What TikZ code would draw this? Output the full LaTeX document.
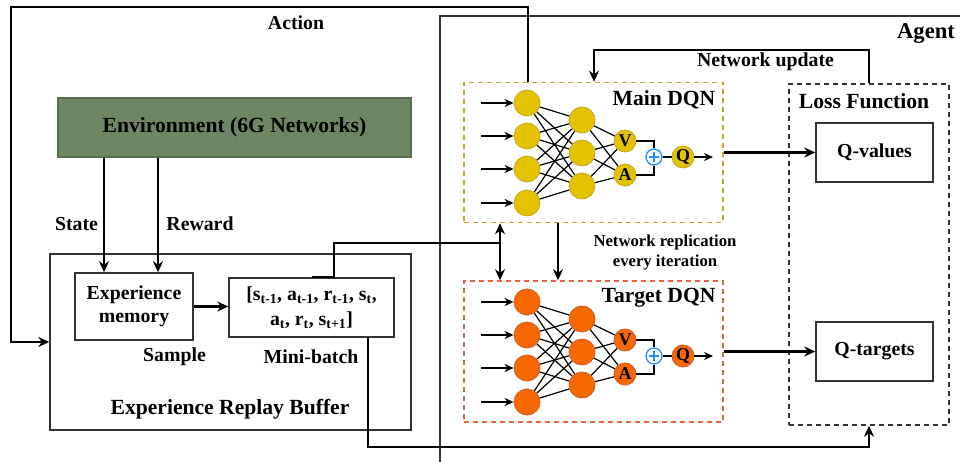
\documentclass[tikz,border=0pt]{standalone}
\usepackage{fontspec}
\setmainfont{Liberation Serif}
\usetikzlibrary{arrows.meta}
\definecolor{envgreen}{RGB}{109,135,98}
\definecolor{envline}{RGB}{86,110,78}
\definecolor{dqnyellow}{RGB}{227,194,0}
\definecolor{dqnyellowline}{RGB}{200,168,30}
\definecolor{dqnorange}{RGB}{247,104,0}
\definecolor{dqnorangeline}{RGB}{214,90,30}
\definecolor{mainline}{RGB}{200,166,40}
\definecolor{targetline}{RGB}{232,100,64}
\definecolor{plusblue}{RGB}{30,144,255}
\definecolor{frameline}{RGB}{51,51,51}
\newcommand{\txtbig}{\fontsize{21.6}{24}\selectfont\bfseries}
\newcommand{\txtmid}{\fontsize{19.8}{24}\selectfont\bfseries}
\newcommand{\txtsmall}{\fontsize{16.7}{19.5}\selectfont\bfseries}

\begin{document}
\begin{tikzpicture}[x=1pt,y=-1pt,
		>={Stealth[length=11pt,width=10pt]},
		box/.style={draw=frameline,line width=1.5pt,inner sep=0pt,align=center,font=\txtmid},
		dashbox/.style={line width=1.5pt,dash pattern=on 5pt off 4pt,inner sep=0pt},
		lbl/.style={inner sep=0pt,font=\txtmid},
		neuron/.style={circle,line width=0.8pt,minimum size=26pt,inner sep=0pt},
		outnode/.style={circle,line width=0.8pt,minimum size=22pt,inner sep=0pt,font=\fontsize{18}{18}\selectfont\bfseries},
		thickarr/.style={->,line width=2.3pt},
		thinarr/.style={->,line width=1.5pt}]
		\useasboundingbox (0,0) rectangle (960,462);
		\clip (0,0) rectangle (960,462);
		
		% agent frame (runs past the page)
		\draw[frameline,line width=1.5pt] (440,16) rectangle (990,490);
		\node[lbl,font=\fontsize{22.6}{24}\selectfont\bfseries] (agent) at (926,34) {Agent};
		
		% environment and replay buffer
		\node[box,draw=envline,fill=envgreen,minimum width=353pt,minimum height=59pt,font=\txtbig] (env) at (234.5,127.5) {Environment (6G Networks)};
		\node[box,minimum width=361pt,minimum height=176pt] (erb) at (230.5,342) {};
		\node[box,minimum width=118pt,minimum height=67pt] (mem) at (134,306.5) {Experience\\[-1pt]memory};
		\node[box,minimum width=165pt,minimum height=59pt] (mb) at (311.5,307.5)
		{[s\textsubscript{t-1}, a\textsubscript{t-1}, r\textsubscript{t-1}, s\textsubscript{t},\\[1pt] a\textsubscript{t}, r\textsubscript{t}, s\textsubscript{t+1}]};
		\node[lbl] (sample) at (174.5,357) {Sample};
		\node[lbl] (minib) at (311,357) {Mini-batch};
		\node[lbl,font=\txtbig] (erbname) at (230,409) {Experience Replay Buffer};
		\node[lbl] (state) at (76.5,224) {State};
		\node[lbl] (reward) at (200,224) {Reward};
		\node[lbl] (action) at (296,23) {Action};
		
		% DQN boxes
		\node[dashbox,draw=mainline,minimum width=259pt,minimum height=140pt] (main) at (593.5,152.5) {};
		\node[dashbox,draw=targetline,minimum width=259pt,minimum height=141pt] (target) at (593.5,351.5) {};
		\node[lbl,font=\txtbig] (mainname) at (664,100) {Main DQN};
		\node[lbl,font=\txtbig] (targetname) at (658.5,298) {Target DQN};
		
		% loss function
		\node[dashbox,draw=frameline,minimum width=160pt,minimum height=341pt] (loss) at (869,254.5) {};
		\node[lbl,font=\txtbig] (lossname) at (864,101) {Loss Function};
		\node[box,minimum width=117pt,minimum height=59pt] (qv) at (874.5,152.5) {Q-values};
		\node[box,minimum width=117pt,minimum height=59pt] (qt) at (874.5,351.5) {Q-targets};
		
		% the two networks
		\foreach \n/\dy/\fc/\lc in {m/0/dqnyellow/dqnyellowline,t/199/dqnorange/dqnorangeline}{
			\begin{scope}[yshift=-\dy pt]
				\foreach \i/\yy in {1/103,2/136,3/169,4/203}{
					\node[neuron,fill=\fc,draw=\lc] (\n-i\i) at (527,\yy) {};
					\coordinate (\n-in\i) at (481,\yy);
					\draw[->,line width=1.5pt,>={Stealth[length=9pt,width=8pt]}] (\n-in\i) -- (\n-i\i);
				}
				\foreach \j/\yy in {1/120,2/153,3/186}
				\node[neuron,fill=\fc,draw=\lc] (\n-h\j) at (582,\yy) {};
				\node[outnode,fill=\fc,draw=\lc] (\n-v) at (625,141) {V};
				\node[outnode,fill=\fc,draw=\lc] (\n-a) at (625,175) {A};
				\node[outnode,fill=\fc,draw=\lc] (\n-q) at (683,157) {Q};
				\node[circle,draw=plusblue,fill=white,line width=1.3pt,minimum size=16pt,inner sep=0pt,
				path picture={\draw[plusblue,line width=1.3pt]
					([xshift=-5pt]path picture bounding box.center) -- ([xshift=5pt]path picture bounding box.center)
					([yshift=-5pt]path picture bounding box.center) -- ([yshift=5pt]path picture bounding box.center);}]
				(\n-plus) at (654,157) {};
				\coordinate (\n-out) at (713,157);
				\foreach \i in {1,...,4}
				\foreach \j in {1,2,3}
				\draw[line width=1.2pt] (\n-i\i) -- (\n-h\j);
				\foreach \j in {1,2,3}
				\foreach \k in {v,a}
				\draw[line width=1.2pt] (\n-h\j) -- (\n-\k);
				\draw[line width=1.1pt] (\n-v) -| (\n-plus);
				\draw[line width=1.1pt] (\n-a) -| (\n-plus);
				\draw[line width=1.1pt] (\n-plus) -- (\n-q);
				\draw[->,line width=1.5pt,>={Stealth[length=9pt,width=8pt]}] (\n-q) -- (\n-out);
			\end{scope}
		}
		
		% connectors
		\coordinate (s1) at (104,0);%state
		\coordinate (r1) at (158,0);%reward
		\draw[thickarr] (env.south -| s1) -- (mem.north -| s1);
		\draw[thickarr] (env.south -| r1) -- (mem.north -| r1);
		\draw[thickarr] (mem.east) -- (mem.east -| mb.west);
		
		\coordinate (a1) at (528,7);%action
		\coordinate (a2) at (11,7);
		\coordinate (a3) at (11,342);
		\draw[thickarr] (main.north -| a1) -- (a1) -- (a2) -- (a3) -- (erb.west);
		
		\coordinate (b1) at (334,243);%mini-batch to DQNs
		\coordinate (b2) at (500,243);
		\draw[line width=2.3pt] (mb.north) -| (b1) -- (b2);
		\draw[<->,line width=2.3pt] (main.south -| b2) -- (target.north -| b2);
		
		\coordinate (c1) at (368,447);%mini-batch to loss
		\coordinate (c2) at (869,447);
		\draw[thinarr] (mb.south -| c1) -- (c1) -- (c2) -- (loss.south -| c2);
		
		\coordinate (u1) at (869,50);%network update
		\coordinate (u2) at (594,50);
		\draw[thinarr] (loss.north -| u1) -- (u1) -- (u2) -- (main.north -| u2);
		\node[lbl] (update) at (765.5,62) {Network update};
		
		\coordinate (p1) at (558,250);%replication
		\draw[thinarr] (main.south -| p1) -- (target.north -| p1);
		\node[lbl,font=\txtsmall,align=center] (repl) at (665,252.5) {Network replication\\every iteration};
		
		\draw[thickarr] (main.east) -- (qv.west);
		\draw[thickarr] (target.east) -- (qt.west);
	\end{tikzpicture}
\end{document}
